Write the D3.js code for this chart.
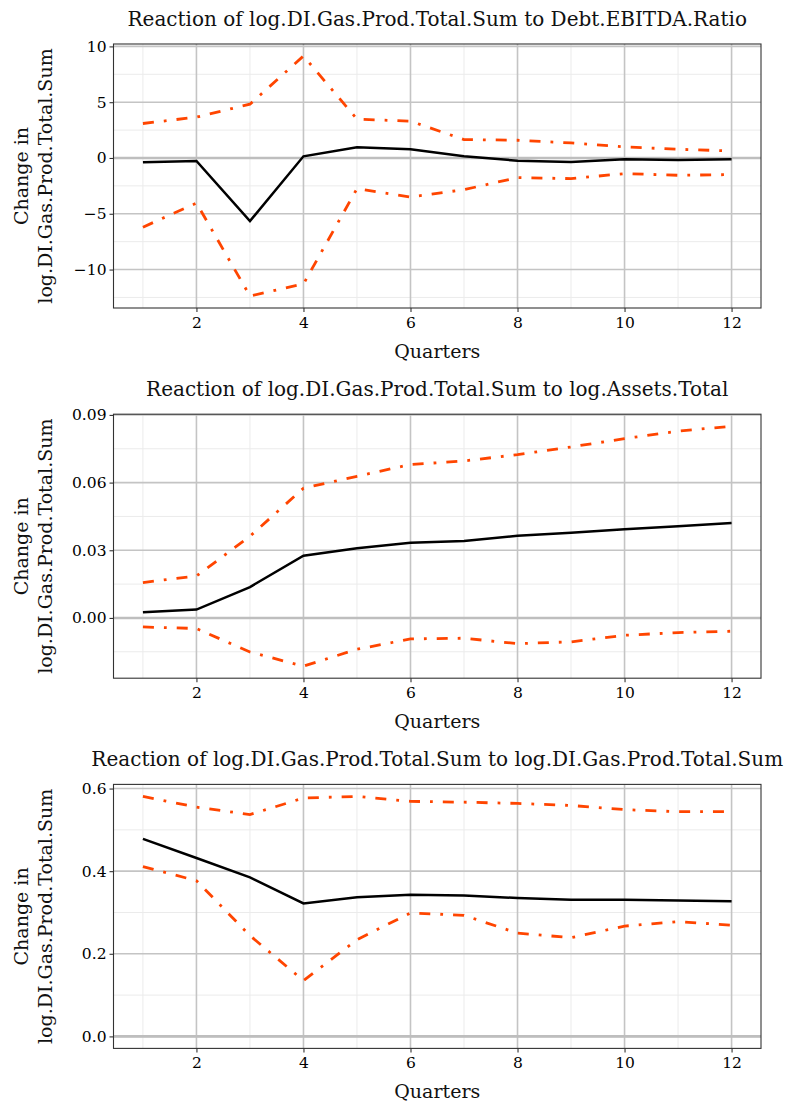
<!DOCTYPE html>
<html><head><meta charset="utf-8">
<script src="https://cdn.jsdelivr.net/npm/d3@7"></script>
<style>body{margin:0;background:#fff}</style>
</head><body>
<script>
const quarters = [1,2,3,4,5,6,7,8,9,10,11,12];
const titles = [
  "Reaction of log.DI.Gas.Prod.Total.Sum to Debt.EBITDA.Ratio",
  "Reaction of log.DI.Gas.Prod.Total.Sum to log.Assets.Total",
  "Reaction of log.DI.Gas.Prod.Total.Sum to log.DI.Gas.Prod.Total.Sum"
];
// Panel 1: Debt.EBITDA.Ratio
const irf1   = [-0.39,-0.27,-5.66,0.15,0.96,0.78,0.15,-0.24,-0.36,-0.12,-0.18,-0.12];
const upper1 = [3.09,3.66,4.82,9.14,3.48,3.30,1.65,1.59,1.35,0.99,0.78,0.63];
const lower1 = [-6.20,-4.04,-12.37,-11.29,-2.75,-3.50,-2.84,-1.76,-1.85,-1.40,-1.55,-1.49];
const yTicks1 = [-10,-5,0,5,10];
// Panel 2: log.Assets.Total
const irf2   = [0.0025,0.0037,0.0137,0.0276,0.0309,0.0333,0.0341,0.0364,0.0378,0.0393,0.0406,0.0421];
const upper2 = [0.0157,0.0186,0.0362,0.0575,0.0628,0.0680,0.0696,0.0724,0.0758,0.0795,0.0828,0.0850];
const lower2 = [-0.0040,-0.0047,-0.0151,-0.0214,-0.0139,-0.0093,-0.0090,-0.0114,-0.0106,-0.0077,-0.0065,-0.0059];
const yTicks2 = [0.00,0.03,0.06,0.09];
// Panel 3: log.DI.Gas.Prod.Total.Sum
const irf3   = [0.478,0.432,0.385,0.322,0.337,0.343,0.341,0.335,0.331,0.331,0.329,0.327];
const upper3 = [0.581,0.555,0.537,0.577,0.581,0.569,0.567,0.564,0.559,0.549,0.544,0.544];
const lower3 = [0.411,0.377,0.244,0.135,0.234,0.299,0.293,0.250,0.239,0.267,0.278,0.269];
const yTicks3 = [0.0,0.2,0.4,0.6];
const xTicks = [2,4,6,8,10,12];
const xLabel = "Quarters";
const yLabel = ["Change in","log.DI.Gas.Prod.Total.Sum"];

const panels = [
  {title:titles[0], irf:irf1, up:upper1, lo:lower1, ticks:yTicks1, fmt:d3.format("d")},
  {title:titles[1], irf:irf2, up:upper2, lo:lower2, ticks:yTicks2, fmt:d3.format(".2f")},
  {title:titles[2], irf:irf3, up:upper3, lo:lower3, ticks:yTicks3, fmt:d3.format(".1f")}
];

const W = 785, H = 1106;
const FONT = "'DejaVu Serif', serif";
const svg = d3.select("body").append("svg").attr("width",W).attr("height",H)
  .style("font-family",FONT);

const left = 113.5, right = 761, ptop = 44, pbot = 308, step = 370.2;

panels.forEach((p,i)=>{
  const off = i*step;
  const g = svg.append("g").attr("transform",`translate(0,${off})`);
  const all = p.irf.concat(p.up, p.lo, [0]);
  const [mn,mx] = d3.extent(all);
  const pad = (mx-mn)*0.05;
  const x = d3.scaleLinear().domain([1-11*0.05, 12+11*0.05]).range([left,right]);
  const y = d3.scaleLinear().domain([mn-pad, mx+pad]).range([pbot,ptop]);
  const stepT = p.ticks[1]-p.ticks[0];
  const minorY = [];
  for (let k=-1;k<p.ticks.length;k++){
    const v = p.ticks[0]+stepT*(k+0.5);
    if (v>=y.domain()[0] && v<=y.domain()[1]) minorY.push(v);
  }
  const minorX = [1,3,5,7,9,11];
  g.selectAll(".mx").data(minorX).enter().append("line")
    .attr("x1",d=>x(d)).attr("x2",d=>x(d)).attr("y1",ptop).attr("y2",pbot)
    .attr("stroke","#ebebeb").attr("stroke-width",1);
  g.selectAll(".my").data(minorY).enter().append("line")
    .attr("y1",d=>y(d)).attr("y2",d=>y(d)).attr("x1",left).attr("x2",right)
    .attr("stroke","#ebebeb").attr("stroke-width",1);
  g.selectAll(".gx").data(xTicks).enter().append("line")
    .attr("x1",d=>x(d)).attr("x2",d=>x(d)).attr("y1",ptop).attr("y2",pbot)
    .attr("stroke","#c4c4c4").attr("stroke-width",1.6);
  g.selectAll(".gy").data(p.ticks).enter().append("line")
    .attr("y1",d=>y(d)).attr("y2",d=>y(d)).attr("x1",left).attr("x2",right)
    .attr("stroke","#c4c4c4").attr("stroke-width",1.6);
  g.append("line").attr("x1",left).attr("x2",right).attr("y1",y(0)).attr("y2",y(0))
    .attr("stroke","#bebebe").attr("stroke-width",2.6);
  const line = d3.line().x((d,j)=>x(quarters[j])).y(d=>y(d));
  g.append("path").attr("d",line(p.up)).attr("fill","none").attr("stroke","#ff4500")
    .attr("stroke-width",2.8).attr("stroke-dasharray","11,10,2.8,10");
  g.append("path").attr("d",line(p.lo)).attr("fill","none").attr("stroke","#ff4500")
    .attr("stroke-width",2.8).attr("stroke-dasharray","11,10,2.8,10");
  g.append("path").attr("d",line(p.irf)).attr("fill","none").attr("stroke","#000")
    .attr("stroke-width",2.5);
  g.append("rect").attr("x",left).attr("y",ptop).attr("width",right-left).attr("height",pbot-ptop)
    .attr("fill","none").attr("stroke","#333").attr("stroke-width",1.1);
  const ya = g.append("g").attr("transform",`translate(${left},0)`)
    .call(d3.axisLeft(y).tickValues(p.ticks).tickFormat(d=>p.fmt(d).replace("-","\u2212")).tickSize(4).tickPadding(3));
  const xa = g.append("g").attr("transform",`translate(0,${pbot})`)
    .call(d3.axisBottom(x).tickValues(xTicks).tickFormat(d3.format("d")).tickSize(4).tickPadding(5));
  [ya,xa].forEach(a=>{
    a.select(".domain").remove();
    a.selectAll(".tick line").attr("stroke","#333").attr("stroke-width",1.1);
    a.selectAll(".tick text").attr("fill","#000").style("font-family",FONT).style("font-size","15.5px");
  });
  g.append("text").attr("x",(left+right)/2).attr("y",26).attr("text-anchor","middle")
    .style("font-size","20px").attr("fill","#111").text(p.title);
  g.append("text").attr("x",(left+right)/2).attr("y",358).attr("text-anchor","middle")
    .style("font-size","19px").attr("fill","#111").text(xLabel);
  const cy = (ptop+pbot)/2;
  g.append("text").attr("transform",`translate(27.5,${cy}) rotate(-90)`).attr("text-anchor","middle")
    .style("font-size","19px").attr("fill","#111").text(yLabel[0]);
  g.append("text").attr("transform",`translate(51.5,${cy}) rotate(-90)`).attr("text-anchor","middle")
    .style("font-size","19px").attr("fill","#111").text(yLabel[1]);
});
</script>
</body></html>
